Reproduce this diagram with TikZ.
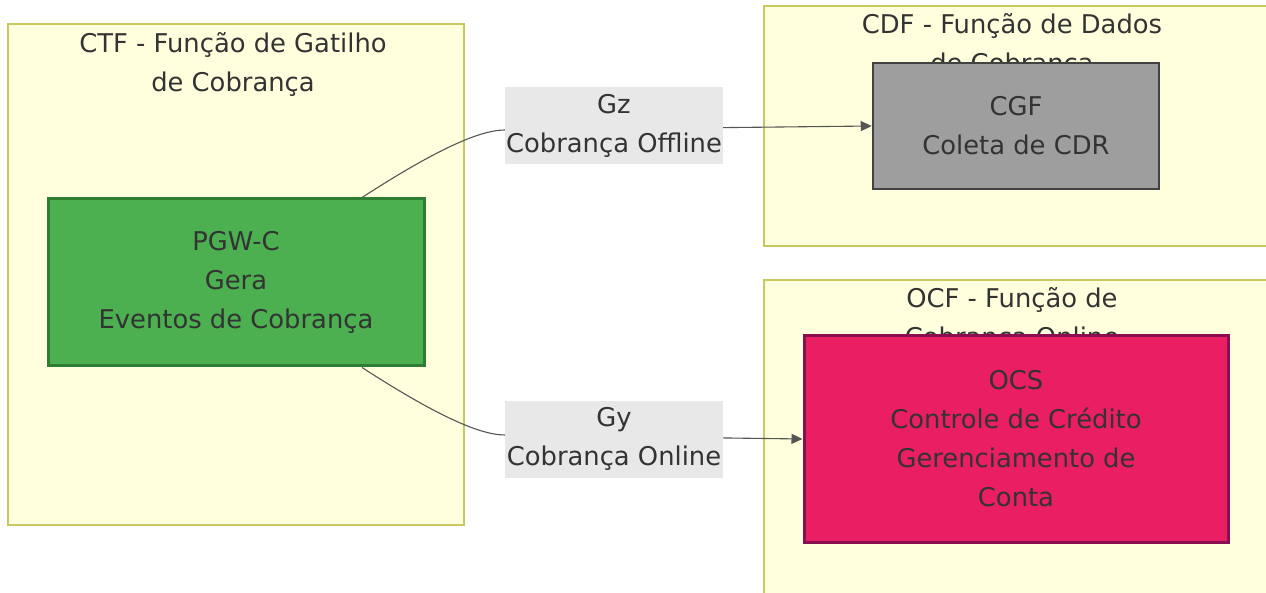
\documentclass[tikz,border=0pt]{standalone}
\usepackage{fontspec}
\setmainfont{DejaVu Sans}
\usetikzlibrary{arrows.meta}

\pgfdeclarelayer{back}
\pgfdeclarelayer{wires}
\pgfsetlayers{back,wires,main}

\definecolor{clusterfill}{HTML}{FFFFDE}
\definecolor{clusterline}{HTML}{C8C860}
\definecolor{txt}{HTML}{333333}
\definecolor{wirecol}{HTML}{555555}
\definecolor{pgwfill}{HTML}{4CAF50}
\definecolor{pgwline}{HTML}{2E7D32}
\definecolor{cgffill}{HTML}{9E9E9E}
\definecolor{cgfline}{HTML}{424242}
\definecolor{ocsfill}{HTML}{E91E63}
\definecolor{ocsline}{HTML}{880E4F}
\definecolor{labelfill}{HTML}{E8E8E8}

\begin{document}
\begin{tikzpicture}[%
        x=1pt, y=-1pt,
        every node/.style={text=txt, font=\fontsize{25.8}{39}\selectfont,
            align=center, inner sep=0pt},
        cluster/.style={draw=clusterline, fill=clusterfill, line width=1.2pt},
        funcbox/.style={rectangle, line width=3pt},
        edgelabel/.style={fill=labelfill, minimum width=218pt, minimum height=77pt},
        wire/.style={draw=wirecol, line width=1.1pt, -{Triangle[length=11pt,width=10pt]}}
    ]
        \useasboundingbox (0,0) rectangle (1266,593);

        \begin{pgfonlayer}{back}
            \fill [white] (0,0) rectangle (1266,593);
            \clip (0,0) rectangle (1266,593);
            % clusters
            \node [cluster, minimum width=456pt, minimum height=501pt] (ctf) at (236,274.5) {};
            \node [cluster, minimum width=516pt, minimum height=240pt] (cdf) at (1022,126) {};
            \node [cluster, minimum width=516pt, minimum height=340pt] (ocf) at (1022,450) {};

            \node (ctftitle) at (233,64) {CTF - Função de Gatilho\\de Cobrança};
            \node (cdftitle) at (1012,45) {CDF - Função de Dados\\de Cobrança};
            \node (ocftitle) at (1012,319) {OCF - Função de\\Cobrança Online};
        \end{pgfonlayer}

        % functions
        \node [funcbox, fill=pgwfill, draw=pgwline, minimum width=376pt, minimum height=167pt]
            (pgw) at (236,282.5) {PGW-C\\Gera\\Eventos de Cobrança};
        \node [funcbox, fill=cgffill, draw=cgfline, line width=2.5pt,
            minimum width=286pt, minimum height=126pt]
            (cgf) at (1016,126) {CGF\\Coleta de CDR};
        \node [funcbox, fill=ocsfill, draw=ocsline, minimum width=424pt, minimum height=206pt]
            (ocs) at (1016,439) {OCS\\Controle de Crédito\\Gerenciamento de\\Conta};

        % interfaces
        \node [edgelabel] (gz) at (614,125.5) {Gz\\Cobrança Offline};
        \node [edgelabel] (gy) at (614,439) {Gy\\Cobrança Online};

        \begin{pgfonlayer}{wires}
            \draw [wire] (pgw.34) .. controls +(71,-46) and +(-26,0) .. ([yshift=-4.5pt]gz.west)
                -- (cgf.west);
            \draw [wire] (pgw.-34) .. controls +(71,46) and +(-26,0) .. ([yshift=4pt]gy.west)
                -- (ocs.west);
        \end{pgfonlayer}
    \end{tikzpicture}
\end{document}
